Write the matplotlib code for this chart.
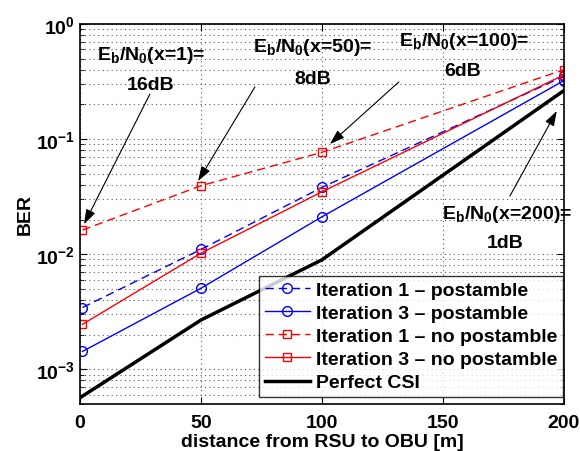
import numpy as np
import matplotlib
matplotlib.use('Agg')
import matplotlib.pyplot as plt
from matplotlib.ticker import LogLocator, NullFormatter

plt.rcParams['font.family'] = ['Liberation Sans', 'DejaVu Sans']
plt.rcParams['font.weight'] = 'bold'
plt.rcParams['mathtext.fontset'] = 'custom'
plt.rcParams['mathtext.rm'] = 'Liberation Sans:bold'
plt.rcParams['mathtext.bf'] = 'Liberation Sans:bold'
plt.rcParams['mathtext.it'] = 'Liberation Sans:bold'
plt.rcParams['mathtext.default'] = 'bf'

# distances [m]
dist = [1, 50, 100, 200]
dist_csi = [0, 50, 100, 200]

# BER values
it1_post = [0.00344, 0.0110, 0.038, 0.35]
it3_post = [0.00143, 0.00506, 0.0211, 0.321]
it1_nopost = [0.0162, 0.0393, 0.0766, 0.40]
it3_nopost = [0.00246, 0.0102, 0.0348, 0.36]
perfect_csi = [0.000567, 0.00268, 0.00893, 0.263]

fig = plt.figure(figsize=(5.8, 4.52), dpi=100)
ax = fig.add_axes([0.138, 0.104, 0.834, 0.841])

dash = (6, 3.5)
ax.semilogy(dist, it1_post, color='blue', lw=1, marker='o', ms=7, mfc='none',
            dashes=dash, label='Iteration 1 – postamble')
ax.semilogy(dist, it3_post, color='blue', lw=1, marker='o', ms=7, mfc='none',
            label='Iteration 3 – postamble')
ax.semilogy(dist, it1_nopost, color='red', lw=1, marker='s', ms=6, mfc='none',
            dashes=dash, label='Iteration 1 – no postamble')
ax.semilogy(dist, it3_nopost, color='red', lw=1, marker='s', ms=6, mfc='none',
            label='Iteration 3 – no postamble')
ax.semilogy(dist_csi, perfect_csi, color='black', lw=2.5, label='Perfect CSI')

ax.set_xlim(0, 200)
ax.set_ylim(5e-4, 1)
ax.set_xticks([0, 50, 100, 150, 200])
ax.yaxis.set_major_locator(LogLocator(base=10, numticks=10))
ax.yaxis.set_minor_locator(LogLocator(base=10, subs=np.arange(2, 10), numticks=20))
ax.yaxis.set_minor_formatter(NullFormatter())
ax.tick_params(which='both', direction='in', top=True, right=True, labelsize=14)
ax.tick_params(axis='x', pad=7)
ax.tick_params(which='major', length=5)
ax.tick_params(which='minor', length=3)
ax.grid(True, which='major', ls=(0, (1, 3)), color='0.35', lw=0.8)
ax.grid(True, which='minor', axis='y', ls=(0, (1, 3)), color='0.35', lw=0.8)
for s in ax.spines.values():
    s.set_linewidth(1.2)

ax.set_xlabel('distance from RSU to OBU [m]', fontsize=14, fontweight='bold', labelpad=2)
ax.set_ylabel('BER', fontsize=14, fontweight='bold', labelpad=2)

leg = ax.legend(loc='lower right', bbox_to_anchor=(0.998, 0.018), fontsize=14,
                frameon=True, fancybox=False, borderaxespad=0.0,
                handlelength=2.3, handletextpad=0.3, labelspacing=0.28,
                borderpad=0.3)
leg.get_frame().set_edgecolor('black')
leg.get_frame().set_linewidth(1.0)

# annotation texts (pixel centres -> figure fraction)
W, H = 580.0, 452.0
notes = [
    (151, 55, r'E$_b$/N$_0$(x=1)='), (151, 86, '16dB'),
    (313, 48, r'E$_b$/N$_0$(x=50)='), (313, 79, '8dB'),
    (464, 42, r'E$_b$/N$_0$(x=100)='), (463, 72, '6dB'),
    (507, 215, r'E$_b$/N$_0$(x=200)='), (505, 244, '1dB'),
]
for px, py, txt in notes:
    fig.text(px / W, 1 - py / H, txt, ha='center', va='center',
             fontsize=14, fontweight='bold')

# arrows: (tail, head) in data coordinates
arrows = [
    ((28.9, 0.246), (1.65, 0.0182)),
    ((72.3, 0.283), (48.8, 0.0431)),
    ((131.8, 0.313), (103.3, 0.0905)),
    ((177.7, 0.0319), (197.1, 0.175)),
]
for tail, head in arrows:
    ax.annotate('', xy=head, xytext=tail,
                arrowprops=dict(arrowstyle='-|>,head_length=0.9,head_width=0.3',
                                color='black', lw=0.8, shrinkA=0, shrinkB=0))

fig.savefig('out.png', dpi=100)
